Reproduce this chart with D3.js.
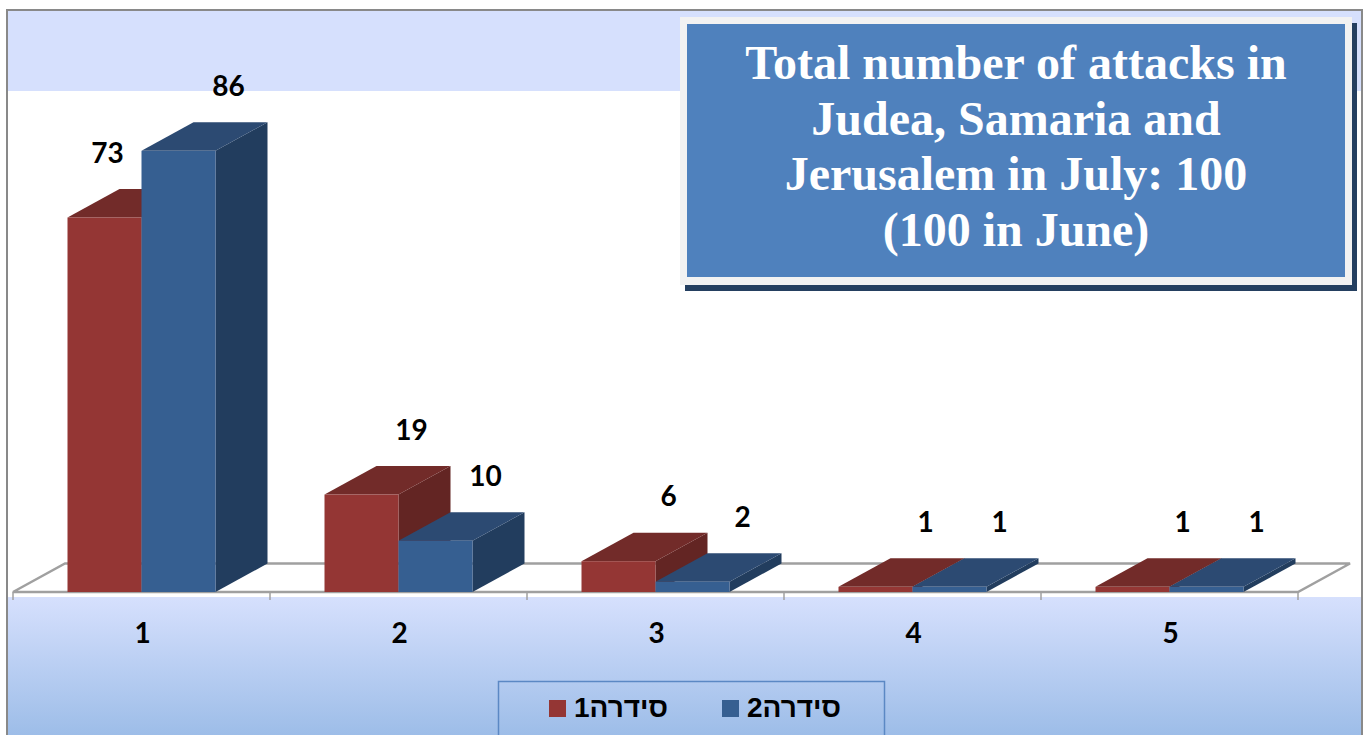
<!DOCTYPE html>
<html>
<head>
<meta charset="utf-8">
<script src="https://cdn.jsdelivr.net/npm/d3@7"></script>
<style>
  body { margin: 0; background: #fff; }
</style>
</head>
<body>
<svg id="chart" width="1367" height="735"></svg>
<script>
// data
var categories = ['1', '2', '3', '4', '5'];
var seriesNames = ['סידרה1', 'סידרה2'];
var series1 = [73, 19, 6, 1, 1];
var series2 = [86, 10, 2, 1, 1];
var titleLines = ['Total number of attacks in', 'Judea, Samaria and', 'Jerusalem in July: 100', '(100 in June)'];

var svg = d3.select('#chart');

// colours of the two series: front, top, side
var faces = [
    { front: '#943634', top: '#722b29', side: '#632523' },
    { front: '#365f91', top: '#2c4a72', side: '#223d5e' }
];

// background of the chart area, light band on top and gradient below
var defs = svg.append('defs');
var grad = defs.append('linearGradient').attr('id', 'bg')
    .attr('x1', 0).attr('y1', 0).attr('x2', 0).attr('y2', 1);
grad.append('stop').attr('offset', 0).attr('stop-color', '#d6e0fd');
grad.append('stop').attr('offset', 0.81).attr('stop-color', '#d6e0fd');
grad.append('stop').attr('offset', 1).attr('stop-color', '#9dbde8');

svg.append('rect').attr('x', 7).attr('y', 10).attr('width', 1355).attr('height', 725)
    .attr('fill', 'url(#bg)');
svg.append('rect').attr('x', 8).attr('y', 91).attr('width', 1354).attr('height', 506)
    .attr('fill', '#fff');

// scales
var x = d3.scaleBand().domain(categories).range([13, 1298]);
var y = d3.scaleLinear().domain([0, 100]).range([592, 79]);
var barW = 74;
var x1 = d3.scaleBand().domain([0, 1]).range([0, barW * 2]);
var dx = 52, dy = 28.5; // depth of the 3d view
var base = y(0);

function poly(pts) {
    return 'M' + pts.map(function (p) { return p.join(','); }).join('L') + 'Z';
}

// floor
var x0 = x.range()[0], xEnd = x.range()[1];
svg.append('path')
    .attr('d', poly([[x0, base], [xEnd, base], [xEnd + dx, base - dy], [x0 + dx, base - dy]]))
    .attr('fill', '#fff').attr('stroke', '#a0a0a0').attr('stroke-width', 2.5);

// tick marks between categories
var ticks = categories.map(function (c) { return x(c); }).concat([xEnd]);
svg.append('g').selectAll('line').data(ticks).enter().append('line')
    .attr('x1', function (d) { return d; }).attr('x2', function (d) { return d; })
    .attr('y1', base).attr('y2', base + 8)
    .attr('stroke', '#a0a0a0').attr('stroke-width', 1.5);

// bars, painted left to right
var bars = [];
categories.forEach(function (c, ci) {
    [series1, series2].forEach(function (s, si) {
        var xl = x(c) + (x.bandwidth() - barW * 2) / 2 + x1(si);
        bars.push({ cat: c, ci: ci, si: si, value: s[ci], xl: xl, xr: xl + x1.bandwidth(), yt: y(s[ci]) });
    });
});

var barG = svg.append('g').selectAll('g').data(bars).enter().append('g');
barG.append('path')
    .attr('d', function (d) { return poly([[d.xr, d.yt], [d.xr + dx, d.yt - dy], [d.xr + dx, base - dy], [d.xr, base]]); })
    .attr('fill', function (d) { return faces[d.si].side; });
barG.append('path')
    .attr('d', function (d) { return poly([[d.xl, d.yt], [d.xr, d.yt], [d.xr + dx, d.yt - dy], [d.xl + dx, d.yt - dy]]); })
    .attr('fill', function (d) { return faces[d.si].top; });
barG.append('rect')
    .attr('x', function (d) { return d.xl; })
    .attr('y', function (d) { return d.yt; })
    .attr('width', function (d) { return d.xr - d.xl; })
    .attr('height', function (d) { return base - d.yt; })
    .attr('fill', function (d) { return faces[d.si].front; });

// value labels, moved to the left when a taller bar stands right next to it
svg.append('g').selectAll('text').data(bars).enter().append('text')
    .attr('x', function (d) {
        var next = d.si === 0 ? series2[d.ci] : 0;
        return next > d.value ? d.xl + 40 : d.xl + 87;
    })
    .attr('y', function (d) { return d.yt - 65 + 10; })
    .attr('text-anchor', 'middle')
    .style('font-family', 'Lato, "Open Sans", sans-serif')
    .style('font-weight', 'bold').style('font-size', '28px').attr('fill', '#000')
    .text(function (d) { return d.value; });

// category labels
svg.append('g').selectAll('text').data(categories).enter().append('text')
    .attr('x', function (d) { return x(d) + x.bandwidth() / 2 + 1; })
    .attr('y', 643)
    .attr('text-anchor', 'middle')
    .style('font-family', 'Lato, "Open Sans", sans-serif')
    .style('font-weight', 'bold').style('font-size', '28px').attr('fill', '#000')
    .text(function (d) { return d; });

// legend
var legend = svg.append('g');
legend.append('rect').attr('x', 498.5).attr('y', 681.5).attr('width', 386).attr('height', 70)
    .attr('fill', 'none').attr('stroke', '#5b88c4').attr('stroke-width', 1.5);
var item = legend.selectAll('g').data(seriesNames).enter().append('g')
    .attr('transform', function (d, i) { return 'translate(' + (549 + i * 173) + ',700)'; });
item.append('rect').attr('width', 17).attr('height', 17)
    .attr('fill', function (d, i) { return faces[i].front; });
item.append('text')
    .attr('x', 25).attr('y', 17)
    .attr('direction', 'rtl').attr('text-anchor', 'end')
    .style('font-family', '"Liberation Sans", Arial, "DejaVu Sans", sans-serif')
    .style('font-weight', 'bold').style('font-size', '28px').attr('fill', '#000')
    .text(function (d) { return d; });

// title box with shadow
var tb = svg.append('g');
tb.append('rect').attr('x', 685).attr('y', 23).attr('width', 672).attr('height', 268).attr('fill', '#243f60');
tb.append('rect').attr('x', 680).attr('y', 17).attr('width', 672).attr('height', 268).attr('fill', '#f2f2f2');
tb.append('rect').attr('x', 687).attr('y', 24).attr('width', 658).attr('height', 253).attr('fill', '#4f81bd');
tb.selectAll('text').data(titleLines).enter().append('text')
    .attr('x', 1016)
    .attr('y', function (d, i) { return 79 + i * 55.5; })
    .attr('text-anchor', 'middle')
    .style('font-family', '"Liberation Serif", "Times New Roman", serif')
    .style('font-weight', 'bold').style('font-size', '48px').attr('fill', '#fff')
    .text(function (d) { return d; });

// outer border of the chart
svg.append('rect').attr('x', 7).attr('y', 10).attr('width', 1355).attr('height', 740)
    .attr('fill', 'none').attr('stroke', '#898989').attr('stroke-width', 2);
</script>
</body>
</html>
